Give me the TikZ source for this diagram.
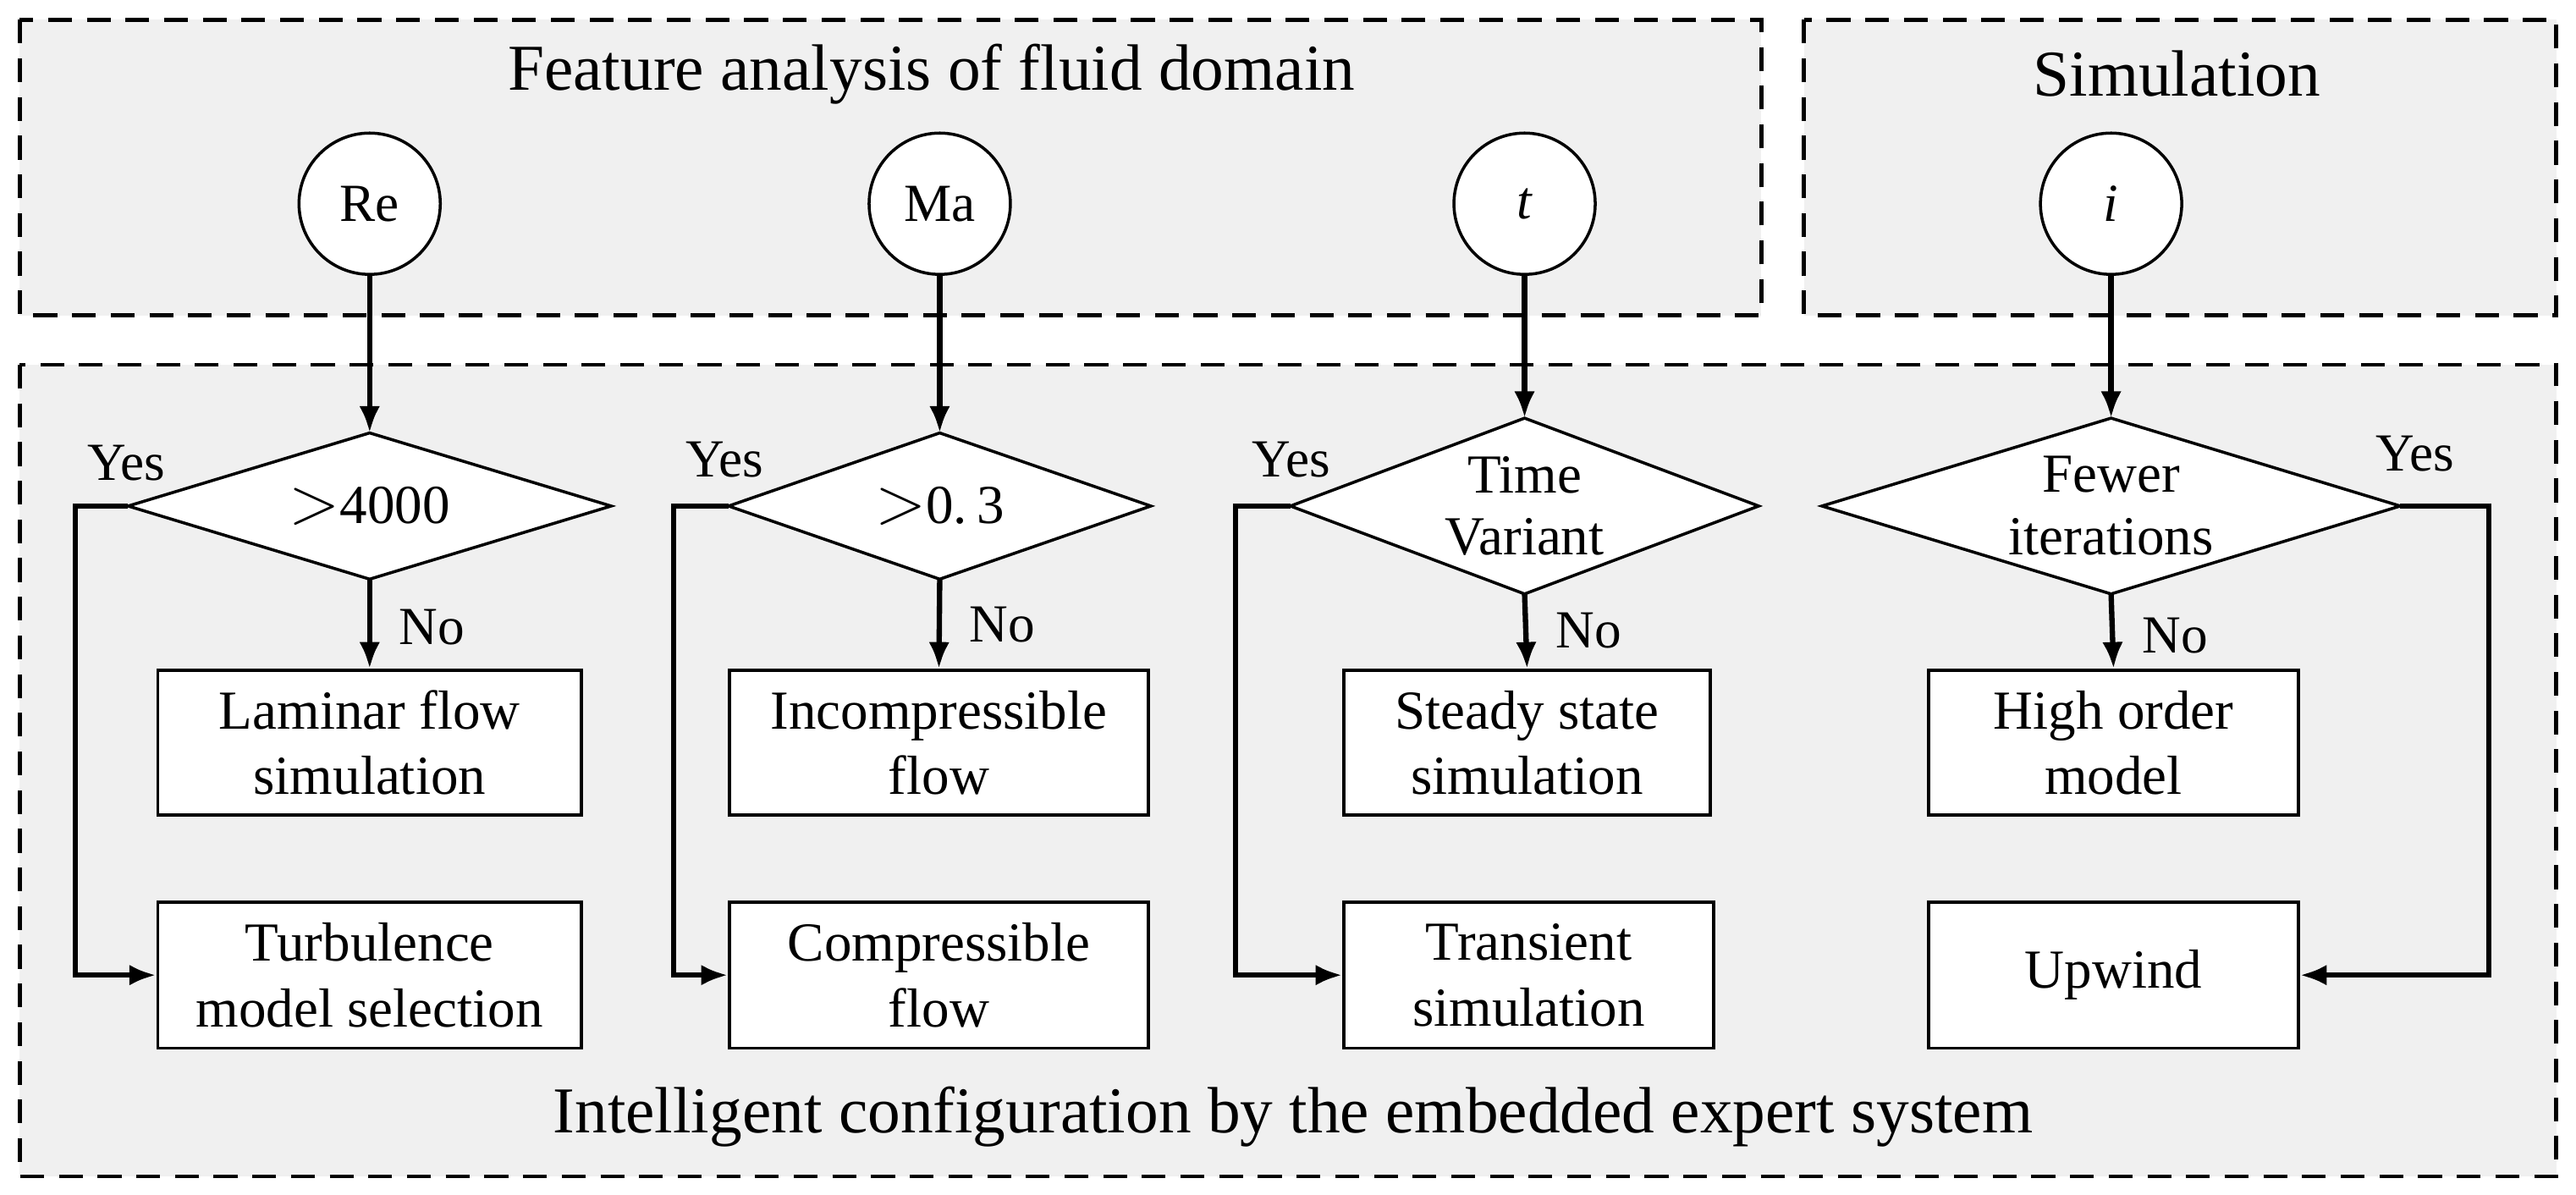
\documentclass[tikz,border=0pt]{standalone}
\usepackage{fontspec}
\setmainfont{Liberation Serif}
\usetikzlibrary{shapes.geometric,arrows.meta}
\newcommand{\mkdia}[6]{% name, x, y, halfw, halfh, text
  \coordinate (#1-n) at (#2,#3-#5);
  \coordinate (#1-s) at (#2,#3+#5);
  \coordinate (#1-w) at (#2-#4,#3);
  \coordinate (#1-e) at (#2+#4,#3);
  \draw[line width=1pt,fill=white] (#1-n) -- (#1-e) -- (#1-s) -- (#1-w) -- cycle;
  \node[diatext] (#1) at (#2,#3) {#6};}
\begin{document}
\begin{tikzpicture}[x=0.019413cm,y=-0.019413cm,
  zone/.style={draw,line width=1.4pt,fill=gray!12,dash pattern=on 8pt off 5pt},
  circ/.style={draw,circle,fill=white,line width=1pt,minimum size=86*0.019413cm,inner sep=0pt,font=\fontsize{18}{20}\selectfont},
  diatext/.style={inner sep=0pt,font=\fontsize{18.5}{21}\selectfont,align=center},
  box/.style={draw,rectangle,fill=white,line width=1pt,inner sep=0pt,font=\fontsize{18.5}{22}\selectfont,align=center},
  arr/.style={line width=1.8pt,-{Latex[length=9pt,width=7pt]}},
  lab/.style={font=\fontsize{18}{20}\selectfont}]
\useasboundingbox (0,0) rectangle (1568,727);
\fill[white] (0,0) rectangle (1568,727);
\draw[zone] (12,12) rectangle (1072,192);
\draw[zone] (1098,12) rectangle (1556,192);
\draw[zone] (12,222) rectangle (1556,716);
\node[font=\fontsize{22}{24}\selectfont] (t1) at (567,45) {Feature analysis of fluid domain};
\node[font=\fontsize{22}{24}\selectfont] (t2) at (1325,45) {Simulation};
\node[font=\fontsize{22}{24}\selectfont] (t3) at (787,680) {Intelligent configuration by the embedded expert system};
% circles
\node[circ] (cRe) at (225,124) {Re};
\node[circ] (cMa) at (572,124) {Ma};
\node[circ] (ct) at (928,124) {\textit{t}};
\node[circ] (ci) at (1285,124) {\textit{i}};
% diamonds
\mkdia{dRe}{225}{308}{147}{44.5}{\scalebox{1.3}{$>$}4000}
\mkdia{dMa}{572}{308}{128.5}{44.5}{\scalebox{1.3}{$>$}0.\,3}
\mkdia{dt}{928}{308}{142.5}{53.5}{Time\\Variant}
\mkdia{di}{1285}{308}{176}{53.5}{Fewer\\iterations}
% boxes
\node[box,minimum width=258*0.019413cm,minimum height=88*0.019413cm] (bRe1) at (225,452) {Laminar flow\\simulation};
\node[box,minimum width=255*0.019413cm,minimum height=88*0.019413cm] (bMa1) at (571.5,452) {Incompressible\\flow};
\node[box,minimum width=223*0.019413cm,minimum height=88*0.019413cm] (bt1) at (929.5,452) {Steady state\\simulation};
\node[box,minimum width=225*0.019413cm,minimum height=88*0.019413cm] (bi1) at (1286.5,452) {High order\\model};
\node[box,minimum width=258*0.019413cm,minimum height=89*0.019413cm] (bRe2) at (225,593.5) {Turbulence\\model selection};
\node[box,minimum width=255*0.019413cm,minimum height=89*0.019413cm] (bMa2) at (571.5,593.5) {Compressible\\flow};
\node[box,minimum width=225*0.019413cm,minimum height=89*0.019413cm] (bt2) at (930.5,593.5) {Transient\\simulation};
\node[box,minimum width=225*0.019413cm,minimum height=89*0.019413cm] (bi2) at (1286.5,593.5) {Upwind};
% arrows
\draw[arr] (cRe.south) -- (dRe-n);
\draw[arr] (cMa.south) -- (dMa-n);
\draw[arr] (ct.south) -- (dt-n);
\draw[arr] (ci.south) -- (di-n);
\draw[arr] (dRe-s) -- (bRe1.north);
\draw[arr] (dMa-s) -- (bMa1.north);
\draw[arr] (dt-s) -- (bt1.north);
\draw[arr] (di-s) -- (bi1.north);
\draw[arr] (dRe-w) -- (46,308) |- (bRe2.west);
\draw[arr] (dMa-w) -- (410,308) |- (bMa2.west);
\draw[arr] (dt-w) -- (752,308) |- (bt2.west);
\draw[arr] (di-e) -- (1515,308) |- (bi2.east);
% labels
\node[lab] (y1) at (77,282) {Yes};
\node[lab] (y2) at (441,280) {Yes};
\node[lab] (y3) at (786,280) {Yes};
\node[lab] (y4) at (1470,276) {Yes};
\node[lab] (n1) at (263,382) {No};
\node[lab] (n2) at (610,380) {No};
\node[lab] (n3) at (967,384) {No};
\node[lab] (n4) at (1324,387) {No};
\end{tikzpicture}
\end{document}
